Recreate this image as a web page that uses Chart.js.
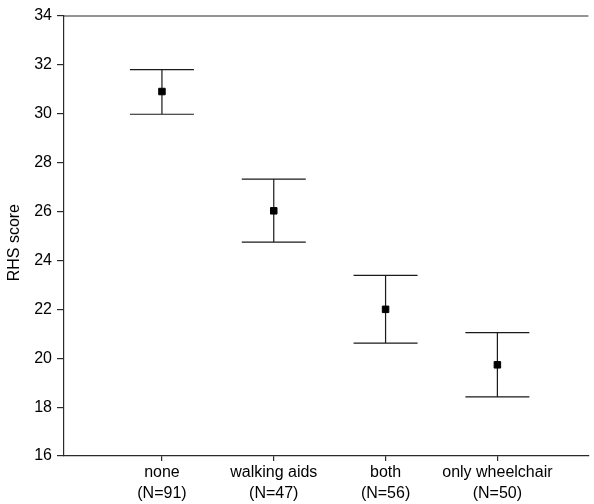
<!DOCTYPE html>
<html>
<head>
  <meta charset="UTF-8">
  <title>RHS score by mobility aid</title>
  <script src="https://cdn.jsdelivr.net/npm/chart.js"></script>
  <style>
    html, body {
      margin: 0;
      padding: 0;
      background: #ffffff;
    }
    #wrap {
      width: 594px;
      height: 504px;
    }
  </style>
</head>
<body>
  <div id="wrap"><canvas id="rhsChart"></canvas></div>

  <script>
    // groups and their sizes
    const groups = ['none', 'walking aids', 'both', 'only wheelchair'];
    const groupN = [91, 47, 56, 50];
    // mean RHS score with lower / upper interval ends
    const means = [30.91, 26.03, 22.0, 19.73];
    const lower = [29.98, 24.75, 20.62, 18.42];
    const upper = [31.81, 27.33, 23.39, 21.05];
    const yTicks = [16, 18, 20, 22, 24, 26, 28, 30, 32, 34];

    const FONT = { family: 'Liberation Sans, Arial, sans-serif', size: 16 };
    const INK = '#000000';
    const AXIS = '#2a2a2a';

    // whiskers + caps behind the mean squares, plus the top frame line
    const errorBars = {
      id: 'errorBars',
      beforeDatasetsDraw(chart) {
        const { ctx, scales: { x, y }, chartArea } = chart;
        const cap = 32;
        ctx.save();
        ctx.strokeStyle = '#1a1a1a';
        ctx.lineWidth = 1.2;
        groups.forEach((g, i) => {
          const px = x.getPixelForValue(i + 1);
          const yLo = y.getPixelForValue(lower[i]);
          const yHi = y.getPixelForValue(upper[i]);
          ctx.beginPath();
          ctx.moveTo(px, yLo);
          ctx.lineTo(px, yHi);
          ctx.moveTo(px - cap, yLo);
          ctx.lineTo(px + cap, yLo);
          ctx.moveTo(px - cap, yHi);
          ctx.lineTo(px + cap, yHi);
          ctx.stroke();
        });
        ctx.strokeStyle = AXIS;
        ctx.lineWidth = 1.2;
        ctx.beginPath();
        ctx.moveTo(chartArea.left, chartArea.top);
        ctx.lineTo(chartArea.right, chartArea.top);
        ctx.stroke();
        ctx.restore();
      }
    };

    const ctx = document.getElementById('rhsChart').getContext('2d');
    new Chart(ctx, {
      type: 'scatter',
      data: {
        datasets: [{
          label: 'mean',
          data: means.map((m, i) => ({ x: i + 1, y: m })),
          pointStyle: 'rect',
          pointRadius: 4.6,
          pointHoverRadius: 4.6,
          backgroundColor: INK,
          borderColor: INK,
          borderWidth: 1
        }]
      },
      options: {
        animation: false,
        responsive: true,
        maintainAspectRatio: false,
        layout: { padding: { top: 16, right: 0, left: 0, bottom: 0 } },
        plugins: {
          legend: { display: false },
          tooltip: { enabled: false }
        },
        scales: {
          x: {
            type: 'linear',
            min: 0.124,
            max: 4.814,
            afterBuildTicks: scale => {
              scale.ticks = groups.map((g, i) => ({ value: i + 1 }));
            },
            afterFit: scale => { scale.height = 48; },
            ticks: {
              autoSkip: false,
              maxRotation: 0,
              color: INK,
              font: { ...FONT, lineHeight: 1.3 },
              padding: 1,
              callback: (v, i) => [groups[i], '(N=' + groupN[i] + ')']
            },
            grid: {
              drawOnChartArea: false,
              drawTicks: true,
              tickLength: 5,
              color: AXIS,
              lineWidth: 1.2
            },
            border: { display: true, color: AXIS, width: 1.2 }
          },
          y: {
            min: 16,
            max: 34,
            afterBuildTicks: scale => {
              scale.ticks = yTicks.map(v => ({ value: v }));
            },
            afterFit: scale => { scale.width = 64; },
            title: {
              display: true,
              // trailing spaces nudge the rotated title a little lower
              text: 'RHS score   ',
              color: INK,
              font: FONT,
              padding: { top: 5, bottom: 0 }
            },
            ticks: {
              color: INK,
              font: FONT,
              padding: 5
            },
            grid: {
              drawOnChartArea: false,
              drawTicks: true,
              tickLength: 7,
              color: AXIS,
              lineWidth: 1.2
            },
            border: { display: true, color: AXIS, width: 1.2 }
          }
        }
      },
      plugins: [errorBars]
    });
  </script>
</body>
</html>
